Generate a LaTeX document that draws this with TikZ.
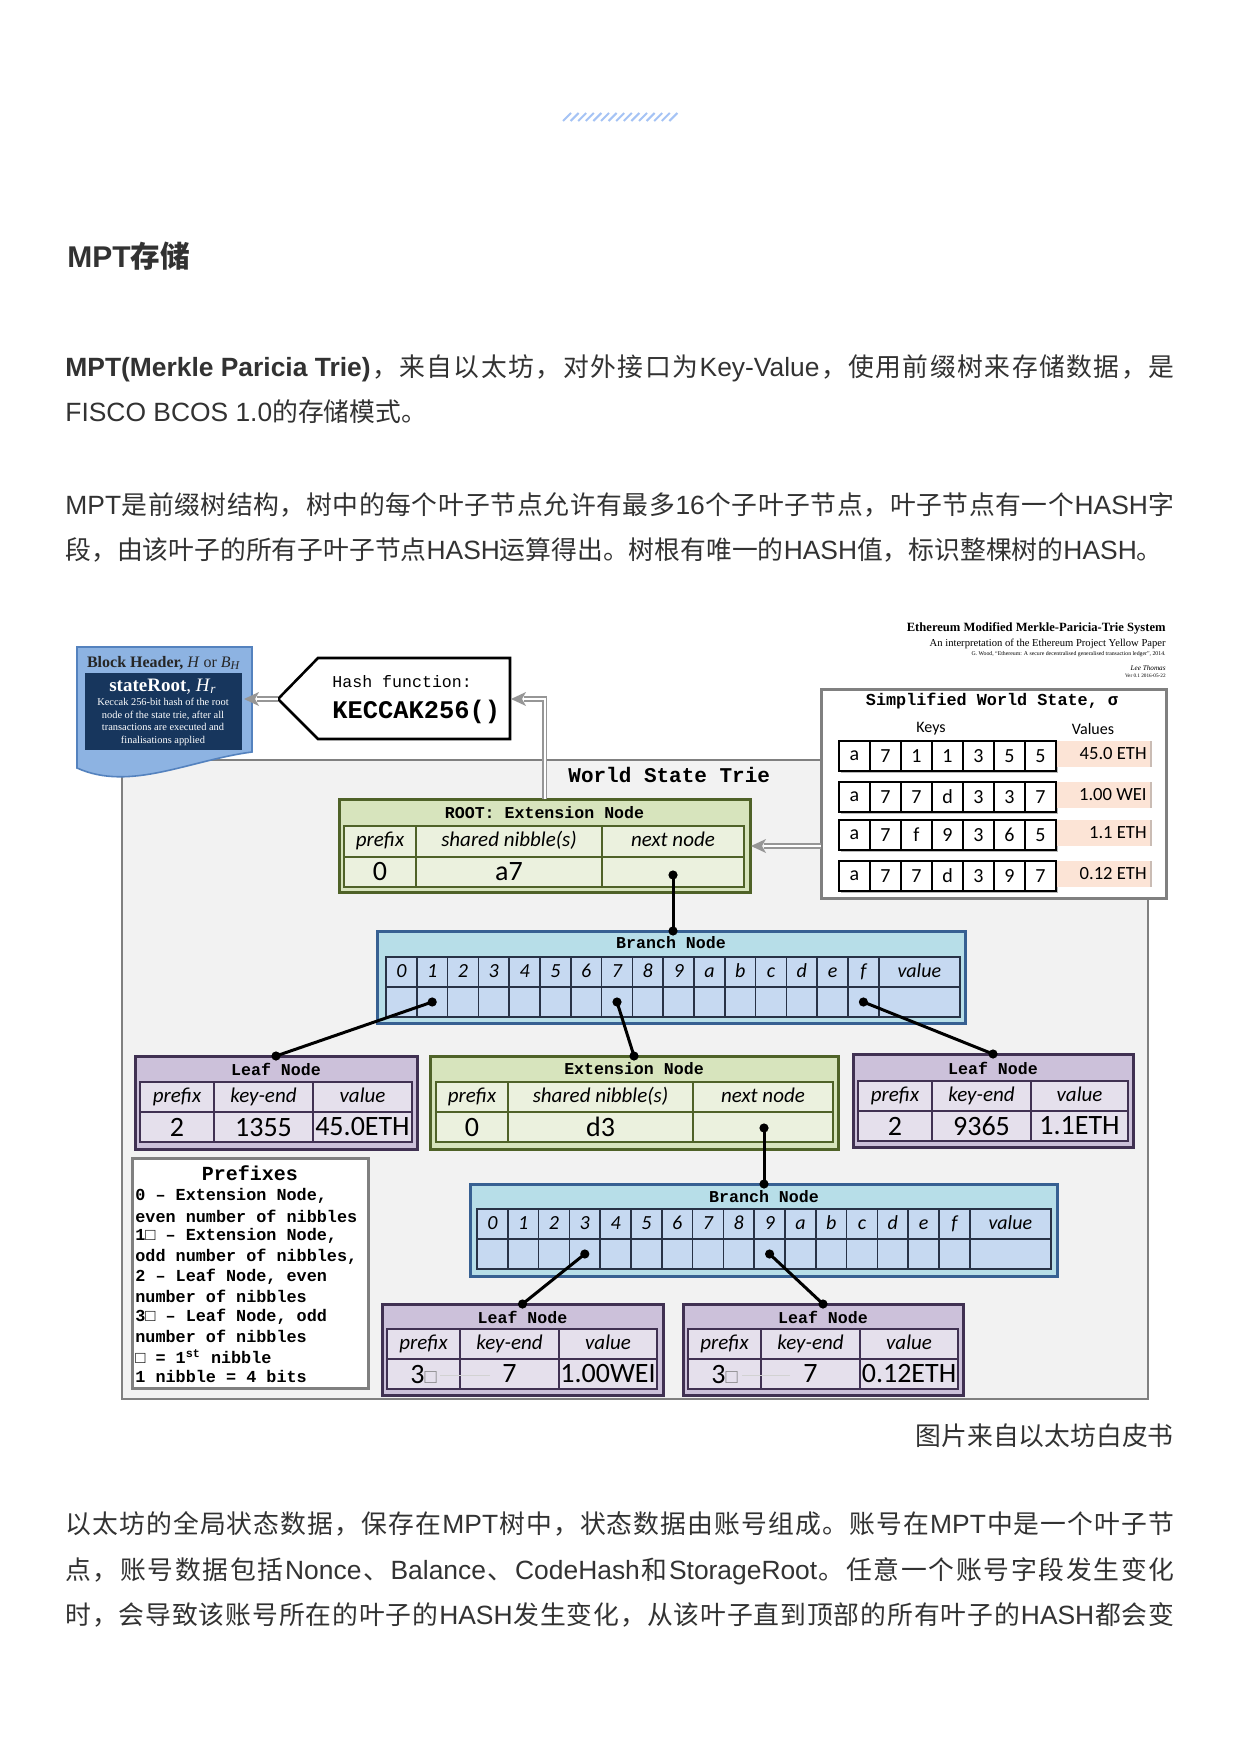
\documentclass[tikz,border=0pt]{standalone}
\usepackage{fontspec}
\setmainfont{Liberation Serif}
\newfontfamily\cjk{Noto Sans CJK SC}
\newfontfamily\lsans{Liberation Sans}
\newfontfamily\mono{Liberation Mono}
\newfontfamily\calfont{Carlito}
\usetikzlibrary{fit}

\definecolor{txt}{RGB}{50,50,50}
\definecolor{hdrblue}{RGB}{141,179,226}
\definecolor{hdrborder}{RGB}{84,130,190}
\definecolor{navy}{RGB}{23,54,93}
\definecolor{panelbg}{RGB}{242,242,242}
\definecolor{panelline}{RGB}{128,128,128}
\definecolor{extfill}{RGB}{215,228,189}
\definecolor{extline}{RGB}{79,98,40}
\definecolor{extcell}{RGB}{235,241,222}
\definecolor{brfill}{RGB}{183,222,232}
\definecolor{brline}{RGB}{55,96,146}
\definecolor{brcell}{RGB}{198,217,241}
\definecolor{brtab}{RGB}{40,50,70}
\definecolor{leaffill}{RGB}{204,193,218}
\definecolor{leafline}{RGB}{64,49,82}
\definecolor{leafcell}{RGB}{229,224,236}
\definecolor{peach}{RGB}{252,228,214}
\definecolor{arrowgray}{RGB}{150,150,150}
\definecolor{stripe}{RGB}{165,195,245}

\newcommand\latn[1]{{\lsans\fontsize{13.2}{15}\selectfont #1}}
\newcommand\latb[1]{{\lsans\bfseries\fontsize{13.2}{15}\selectfont #1}}
\ExplSyntaxOn
\NewDocumentCommand\jline{m}{\hbox~to~554.5pt{\tl_map_inline:nn{#1}{##1\hfil}\unskip}}
\ExplSyntaxOff
\newcommand\settab[7]{\def\tXa{#1}\def\tXb{#2}\def\tXc{#3}\def\tXd{#4}\def\tYa{#5}\def\tYb{#6}\def\tYc{#7}}
\newcommand\drawtab[2]{%
  \filldraw[fill=#1,draw=#2,line width=0.8pt] (\tXa,\tYa) rectangle (\tXd,\tYc);
  \draw[draw=#2,line width=0.8pt] (\tXa,\tYb) -- (\tXd,\tYb) (\tXb,\tYa) -- (\tXb,\tYc) (\tXc,\tYa) -- (\tXc,\tYc);}
\newcommand\hdrow[3]{%
  \node[hd] at ({(\tXa+\tXb)/2},{(\tYa+\tYb)/2}) {#1};
  \node[hd] at ({(\tXb+\tXc)/2},{(\tYa+\tYb)/2}) {#2};
  \node[hd] at ({(\tXc+\tXd)/2},{(\tYa+\tYb)/2}) {#3};}
\newcommand\valrow[3]{%
  \node[vl] at ({(\tXa+\tXb)/2},{(\tYb+\tYc)/2}) {#1};
  \node[vl] at ({(\tXb+\tXc)/2},{(\tYb+\tYc)/2}) {#2};
  \node[vl] at ({(\tXc+\tXd)/2},{(\tYb+\tYc)/2}) {#3};}
\newcommand\branchtab[2]{%
  \filldraw[fill=brcell,draw=brtab,line width=0.8pt] (#1,#2) rectangle ({#1+573.8},{#2+60});
  \draw[draw=brtab,line width=0.8pt] (#1,{#2+30}) -- ({#1+573.8},{#2+30});
  \foreach \lab [count=\k from 0] in {0,1,2,3,4,5,6,7,8,9,a,b,c,d,e,f}{%
    \draw[draw=brtab,line width=0.8pt] ({#1+30.8*(\k+1)},#2) -- ({#1+30.8*(\k+1)},{#2+60});
    \node[brl] at ({#1+30.8*\k+15.4},{#2+15}) {\lab};}
  \node[brl] at ({#1+533.3},{#2+15}) {value};}
\newcommand\lhead[1]{\fill[arrowgray] (#1) -- ++(15,-7) -- ++(-4,7) -- ++(4,7) -- cycle;}
\newcommand\link[2]{\draw[conn] (#1) -- (#2); \fill (#1) circle (2.3pt); \fill (#2) circle (2.3pt);}
\newcommand\sq{\textcolor{gray}{\lsans\fontsize{10}{10}\selectfont □}}

\tikzset{
  body/.style={anchor=base west, inner sep=0pt, text=txt, font=\cjk\fontsize{12.9}{15}\selectfont},
  hd/.style={font=\calfont\itshape\fontsize{10.5}{12}\selectfont, inner sep=0pt, text height=7pt, text depth=2pt},
  vl/.style={font=\calfont\fontsize{14}{16}\selectfont, inner sep=0pt},
  brl/.style={font=\calfont\itshape\fontsize{10}{12}\selectfont, inner sep=0pt, text height=7pt, text depth=2pt},
  ttl/.style={font=\mono\bfseries\fontsize{8.3}{10}\selectfont, inner sep=0pt},
  conn/.style={line width=1.5pt, black},
  dbl/.style={draw=arrowgray, double=white, double distance=1pt, line width=0.9pt},
  extbox/.style={draw=extline, fill=extfill, line width=1.5pt, inner sep=0pt},
  leafbox/.style={draw=leafline, fill=leaffill, line width=1.5pt, inner sep=0pt},
  brbox/.style={draw=brline, fill=brfill, line width=1.5pt, inner sep=0pt},
  graybox/.style={draw=panelline, fill=white, line width=1.5pt, inner sep=0pt},
  keytxt/.style={font=\calfont\fontsize{10}{12}\selectfont, inner sep=0pt},
  valtxt/.style={font=\calfont\fontsize{9.3}{11}\selectfont, inner sep=0pt},
  pfx/.style={anchor=west, font=\mono\bfseries\fontsize{8.4}{10}\selectfont, inner sep=0pt}
}

\begin{document}
\begin{tikzpicture}[x=0.5pt,y=-0.5pt]
\useasboundingbox (0,0) rectangle (1240,1754);
\fill[white] (0,0) rectangle (1240,1754);

% top stripe
\foreach \s in {0,...,14} \draw[stripe, line width=1pt] ({563+7.6*\s},121) -- ({571+7.6*\s},113);

% heading and text
\node[anchor=base west, inner sep=0pt, text=txt, font=\cjk\bfseries\fontsize{14.8}{17}\selectfont] (head) at (67,268) {{\lsans\bfseries\fontsize{15}{17}\selectfont MPT}存储};
\node[body] (p1a) at (65,377) {\jline{{\latb{MPT(Merkle Paricia Trie)}}，来自以太坊，对外接口为{\latn{Key-Value}}，使用前缀树来存储数据，是}};
\node[body] (p1b) at (65,422) {\latn{FISCO BCOS 1.0}的存储模式。};
\node[body] (p2a) at (65,514) {\jline{{\latn{MPT}}是前缀树结构，树中的每个叶子节点允许有最多{\latn{16}}个子叶子节点，叶子节点有一个{\latn{HASH}}字}};
\node[body] (p2b) at (65,559) {段，由该叶子的所有子叶子节点\latn{HASH}运算得出。树根有唯一的\latn{HASH}值，标识整棵树的\latn{HASH}。};
\node[body, anchor=base east] (cap) at (1174,1445) {图片来自以太坊白皮书};
\node[body] (p3a) at (65,1533) {\jline{以太坊的全局状态数据，保存在{\latn{MPT}}树中，状态数据由账号组成。账号在{\latn{MPT}}中是一个叶子节}};
\node[body] (p3b) at (65,1579) {\jline{点，账号数据包括{\latn{Nonce}}、{\latn{Balance}}、{\latn{CodeHash}}和{\latn{StorageRoot}}。任意一个账号字段发生变化}};
\node[body] (p3c) at (65,1624) {\jline{时，会导致该账号所在的叶子的{\latn{HASH}}发生变化，从该叶子直到顶部的所有叶子的{\latn{HASH}}都会变}};

% attribution
\node[anchor=east, inner sep=0pt, font=\bfseries\fontsize{6.3}{7}\selectfont] (att1) at (1166,628) {Ethereum Modified Merkle-Paricia-Trie System};
\node[anchor=east, inner sep=0pt, font=\fontsize{5.3}{6}\selectfont] (att2) at (1166,644) {An interpretation of the Ethereum Project Yellow Paper};
\node[anchor=east, inner sep=0pt, font=\fontsize{2.9}{3}\selectfont] (att3) at (1166,654) {G. Wood, “Ethereum: A secure decentralised generalised transaction ledger”, 2014.};
\node[anchor=east, inner sep=0pt, font=\itshape\fontsize{3.6}{4}\selectfont] (att4) at (1166,668) {Lee Thomas};
\node[anchor=east, inner sep=0pt, font=\fontsize{2.6}{3}\selectfont] (att5) at (1166,676) {Ver 0.1 2016-05-22};

% world state panel
\node[draw=panelline, fill=panelbg, line width=1.2pt, inner sep=0pt, fit={(122,760) (1148,1399)}] (panel) {};
\node[anchor=west, inner sep=0pt, font=\mono\bfseries\fontsize{10.5}{12}\selectfont] (wst) at (568,775) {World State Trie};

% block header
\filldraw[fill=hdrblue, draw=hdrborder, line width=0.8pt] (77,647) -- (252,647) -- (252,752) .. controls (190,760) and (130,792) .. (77,768) -- cycle;
\fill[navy] (85,673) rectangle (242,750);
\node[inner sep=0pt, text=black!85, font=\fontsize{8}{9}\selectfont] (bht) at (164,663) {\textbf{Block Header,} \textit{H} or \textit{B}\textsubscript{\textit{H}}};
\node[inner sep=0pt, text=white, font=\fontsize{9.5}{11}\selectfont] (sr) at (163,687) {\textbf{stateRoot}, \textit{H}\textsubscript{\textit{r}}};
\node[inner sep=0pt, text=white, font=\fontsize{5.2}{6.35}\selectfont, align=center] (srd) at (163,722) {Keccak 256-bit hash of the root\\node of the state trie, after all\\transactions are executed and\\finalisations applied};

% hash function
\filldraw[fill=white, draw=black, line width=1.3pt] (278,699) -- (318,658) -- (510,658) -- (510,739) -- (318,739) -- cycle;
\node[anchor=west, inner sep=0pt, font=\mono\fontsize{8.3}{10}\selectfont] (hashlbl) at (332,682) {Hash function:};
\node[anchor=west, inner sep=0pt, font=\mono\bfseries\fontsize{12.7}{14}\selectfont] (keccak) at (332,712) {KECCAK256()};
\coordinate (hashW) at (278,699);
\coordinate (hashE) at (511,699);
\coordinate (bhE) at (244,699);

% simplified world state
\node[graybox, fit={(821,689) (1166,898)}] (sws) {};
\node[ttl, font=\mono\bfseries\fontsize{8.4}{10}\selectfont] (swst) at (992,701) {Simplified World State, σ};
\node[inner sep=0pt, font=\calfont\fontsize{8}{9}\selectfont] (keys) at (931,729) {Keys};
\node[inner sep=0pt, font=\calfont\fontsize{8}{9}\selectfont] (vals) at (1093,729) {Values};
\foreach \yt/\kk/\vv in {741/{a,7,1,1,3,5,5}/{45.0 ETH},782/{a,7,7,d,3,3,7}/{1.00 WEI},820/{a,7,f,9,3,6,5}/{1.1 ETH},861/{a,7,7,d,3,9,7}/{0.12 ETH}}{
  \fill[gray!55] (841,{\yt+2.5}) rectangle (1058,{\yt+32});
  \fill[peach] (1056,\yt) rectangle (1151,{\yt+26});
  \draw[peach!60!gray, line width=1pt] (1151,\yt) -- (1151,{\yt+26});
  \foreach \c [count=\i from 0] in \kk {
    \filldraw[fill=white, draw=black, line width=0.7pt] ({839+31*\i},\yt) rectangle ({870+31*\i},{\yt+30});
    \node[keytxt] at ({854.5+31*\i},{\yt+15}) {\c};
  }
  \node[valtxt, anchor=east] at (1147,{\yt+13}) {\vv};
}
\coordinate (swsW) at (821,846);

% ROOT extension node
\node[extbox, fit={(339,799) (750,892)}] (root) {};
\node[ttl] (roott) at (544.5,813) {ROOT: Extension Node};
\settab{344}{416}{602}{744}{826}{857}{887}
\drawtab{extcell}{extline}
\hdrow{prefix}{shared nibble(s)}{next node}
\valrow{0}{a7}{}
\coordinate (rootN) at (544.5,799);
\coordinate (rootE) at (751,846);
\coordinate (rootDot) at (673,875);

% arrows
\draw[dbl] (hashW) -- (257,699);
\lhead{bhE}
\draw[dbl] (rootN) |- (524,699);
\lhead{hashE}
\draw[dbl] (swsW) -- (764,846);
\lhead{rootE}

% branch node 1
\node[brbox, fit={(377,931) (965,1023)}] (br1) {};
\node[ttl] (br1t) at (671,943) {Branch Node};
\branchtab{386}{957}
\coordinate (br1N) at (673,931);
\coordinate (br1c1) at (432.2,1002);
\coordinate (br1c7) at (617,1002);
\coordinate (br1cf) at (863.4,1002);

% leaf 1
\node[leafbox, fit={(135,1056) (417,1149)}] (leaf1) {};
\node[ttl] (leaf1t) at (276,1069) {Leaf Node};
\settab{140}{214}{313}{412}{1082}{1112}{1142}
\drawtab{leafcell}{leafline}
\hdrow{prefix}{key-end}{value}
\valrow{2}{1355}{45.0ETH}
\coordinate (leaf1N) at (276,1056);

% extension node 2
\node[extbox, fit={(430,1056) (838,1149)}] (ext2) {};
\node[ttl] (ext2t) at (634,1069) {Extension Node};
\settab{436}{508}{693}{833}{1082}{1112}{1142}
\drawtab{extcell}{extline}
\hdrow{prefix}{shared nibble(s)}{next node}
\valrow{0}{d3}{}
\coordinate (ext2N) at (634,1056);
\coordinate (ext2Dot) at (764,1128);

% leaf 2
\node[leafbox, fit={(853,1054) (1133,1147)}] (leaf2) {};
\node[ttl] (leaf2t) at (993,1068) {Leaf Node};
\settab{858}{932}{1031}{1128}{1081}{1111}{1141}
\drawtab{leafcell}{leafline}
\hdrow{prefix}{key-end}{value}
\valrow{2}{9365}{1.1ETH}
\coordinate (leaf2N) at (993,1054);

% prefixes box
\node[graybox, fit={(132,1158) (368,1388)}] (pfxbox) {};
\node[inner sep=0pt, font=\mono\bfseries\fontsize{10}{12}\selectfont] (pfxt) at (250,1173) {Prefixes};
\foreach \t [count=\i from 0] in {{0 – Extension Node,},{even number of nibbles},{1□ – Extension Node,},{odd number of nibbles,},{2 – Leaf Node, even},{number of nibbles},{3□ – Leaf Node, odd},{number of nibbles},{□ = 1\textsuperscript{st} nibble},{1 nibble = 4 bits}}
  \node[pfx] at (135,{1196+20.1*\i}) {\t};

% branch node 2
\node[brbox, fit={(470,1184) (1057,1276)}] (br2) {};
\node[ttl] (br2t) at (764,1197) {Branch Node};
\branchtab{477}{1209}
\coordinate (br2N) at (764,1184);
\coordinate (br2c3) at (584.8,1254);
\coordinate (br2c9) at (769.6,1254);

% leaf 3
\node[leafbox, fit={(382,1304) (663,1395)}] (leaf3) {};
\node[ttl] (leaf3t) at (522.5,1317) {Leaf Node};
\settab{387}{460}{559}{657}{1329}{1359}{1389}
\drawtab{leafcell}{leafline}
\draw[gray!35, line width=0.5pt] (440,1375) -- (490,1375);
\hdrow{prefix}{key-end}{value}
\valrow{3\sq}{7}{1.00WEI}
\coordinate (leaf3N) at (522.5,1304);

% leaf 4
\node[leafbox, fit={(683,1304) (963,1395)}] (leaf4) {};
\node[ttl] (leaf4t) at (823,1317) {Leaf Node};
\settab{688}{761}{860}{958}{1329}{1359}{1389}
\drawtab{leafcell}{leafline}
\draw[gray!35, line width=0.5pt] (742,1375) -- (790,1375);
\hdrow{prefix}{key-end}{value}
\valrow{3\sq}{7}{0.12ETH}
\coordinate (leaf4N) at (823,1304);

% connectors
\link{rootDot}{br1N}
\link{br1c1}{leaf1N}
\link{br1c7}{ext2N}
\link{br1cf}{leaf2N}
\link{ext2Dot}{br2N}
\link{br2c3}{leaf3N}
\link{br2c9}{leaf4N}
\end{tikzpicture}
\end{document}
